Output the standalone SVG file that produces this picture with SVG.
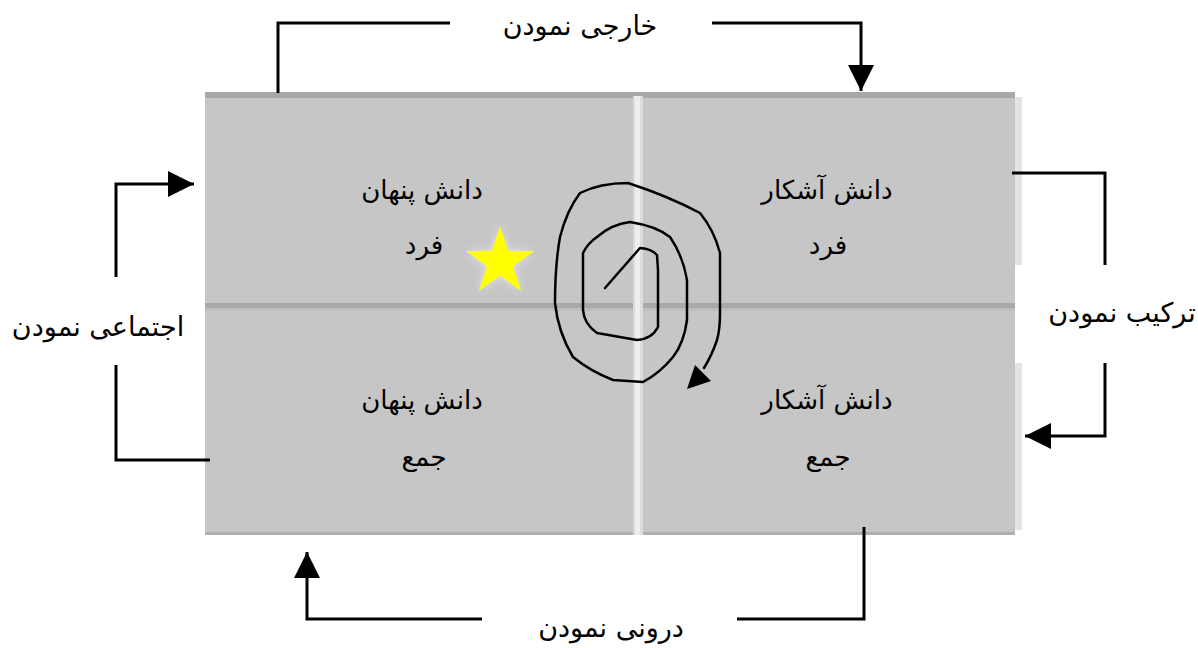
<svg xmlns="http://www.w3.org/2000/svg" width="1198" height="648" viewBox="0 0 1198 648">
<style>
.q{fill:#c6c6c6}
.t{font-family:"DejaVu Sans","Noto Sans",sans-serif;font-size:26px;fill:#000;text-anchor:middle;direction:rtl}
.c{fill:none;stroke:#000;stroke-width:3}
.sp{fill:none;stroke:#000;stroke-width:2.5;stroke-linejoin:round;stroke-linecap:round}
</style>
<defs>
<marker id="ah" markerUnits="userSpaceOnUse" viewBox="0 0 26 26" markerWidth="26" markerHeight="26" refX="26" refY="13" orient="auto">
<path d="M0,0 L26,13 L0,26 z" fill="#000"/>
</marker>
<filter id="glow" x="-50%" y="-50%" width="200%" height="200%"><feGaussianBlur stdDeviation="4"/></filter>
</defs>
<rect width="1198" height="648" fill="#fff"/>
<g id="frame">
<rect x="205" y="92" width="810" height="443" fill="#c6c6c6"/>
<rect x="205" y="92" width="810" height="6" fill="#a8a8a8"/>
<rect x="205" y="303" width="810" height="5" fill="#a9a9a9"/>
<rect x="205" y="308" width="810" height="3" fill="#bdbdbd"/>
<rect x="205" y="532" width="810" height="3" fill="#b0b0b0"/>
<rect x="633" y="96" width="10" height="439" fill="#dcdcdc"/>
<rect x="635" y="96" width="5" height="439" fill="#eeeeee"/>
<rect x="1015" y="97" width="7" height="168" fill="#e3e3e3"/>
<rect x="1015" y="363" width="7" height="167" fill="#e3e3e3"/>
</g>
<g id="q-tacit-individual">
<text class="t" x="422" y="199">دانش پنهان</text>
<text class="t" x="424" y="254">فرد</text>
</g>
<g id="q-explicit-individual">
<text class="t" x="827" y="199">دانش آشکار</text>
<text class="t" x="828" y="254">فرد</text>
</g>
<g id="q-tacit-collective">
<text class="t" x="422" y="409">دانش پنهان</text>
<text class="t" x="424" y="466">جمع</text>
</g>
<g id="q-explicit-collective">
<text class="t" x="827" y="409">دانش آشکار</text>
<text class="t" x="828" y="466">جمع</text>
</g>
<g id="star">
<polygon points="500,226 508.1,250.8 534.2,250.9 513.1,266.3 521.2,291.1 500,275.8 478.8,291.1 486.9,266.3 465.8,250.9 491.9,250.8" fill="#e4e4f0" filter="url(#glow)"/>
<polygon points="500,226 508.1,250.8 534.2,250.9 513.1,266.3 521.2,291.1 500,275.8 478.8,291.1 486.9,266.3 465.8,250.9 491.9,250.8" fill="#ffff00"/>
</g>
<g id="labels">
<text class="t" x="580" y="35" style="font-size:27px">خارجی نمودن</text>
<text class="t" x="611" y="637" style="font-size:27px">درونی نمودن</text>
<text class="t" x="98" y="336" style="font-size:27px">اجتماعی نمودن</text>
<text class="t" x="1122" y="322" style="font-size:27px">ترکیب نمودن</text>
</g>
<g id="connectors">
<path class="c" d="M450,23 H278 V93"/>
<path class="c" d="M712,23 H861 V91" marker-end="url(#ah)"/>
<path class="c" d="M1012,173 H1105 V265"/>
<path class="c" d="M1105,363 V436 H1025" marker-end="url(#ah)"/>
<path class="c" d="M737,619 H864 V527"/>
<path class="c" d="M482,619 H307 V552" marker-end="url(#ah)"/>
<path class="c" d="M210,460 H116 V365"/>
<path class="c" d="M116,277 V184 H194" marker-end="url(#ah)"/>
<path class="sp" d="M605,288 L640,248 Q652,249 657,255 L658,270 L658,327 Q652,339 637,340 L597,333 Q584,324 583,310 L583,253 Q588,243 597,237 Q612,224 630,222 Q656,226 670,237 Q683,256 687,280 L687,320 Q684,343 673,357 Q660,373 643,382 L613,380 Q590,371 573,357 Q558,332 555,303 Q555,265 560,237 Q567,210 580,193 Q600,183 628,183 Q668,196 700,213 Q714,230 720,253 L720,313 Q720,330 717,340 Q712,355 704,368"/>
<polygon points="687,389 695,365 711,381" fill="#000"/>
</g>
</svg>
